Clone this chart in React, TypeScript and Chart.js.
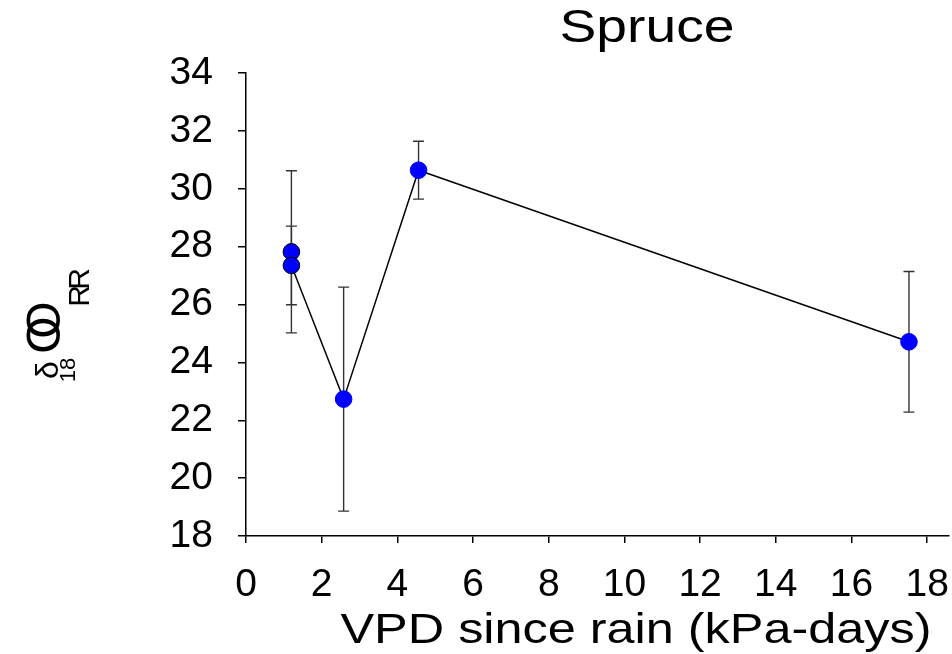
import React, { useEffect, useRef } from "react";
import { Chart, registerables } from "chart.js";

Chart.register(...registerables);

// ---- data ----
const vpdSinceRain = [1.2, 1.2, 2.58, 4.56, 17.52];
const d18O = [27.82, 27.35, 22.73, 30.64, 24.71];
const d18OErr = [2.8, 1.36, 3.87, 1.0, 2.43];
const pointEdge = ["#000000", "#000000", "#0000ff", "#0000ff", "#0000ff"];
const xTickValues = [0, 2, 4, 6, 8, 10, 12, 14, 16, 18];
const yTickValues = [18, 20, 22, 24, 26, 28, 30, 32, 34];
const chartTitle = "Spruce";
const xAxisTitle = "VPD since rain (kPa-days)";

const FONT = "'Liberation Sans', Arial, Helvetica, sans-serif";

const errorBarsPlugin = {
  id: "errorBars",
  beforeDatasetsDraw(chart: any) {
    const { ctx, scales } = chart;
    const x = scales.x;
    const y = scales.y;
    ctx.save();
    ctx.strokeStyle = "#333333";
    ctx.lineWidth = 1.4;
    const cap = 5.5;
    vpdSinceRain.forEach((v, i) => {
      const px = x.getPixelForValue(v);
      const top = y.getPixelForValue(d18O[i] + d18OErr[i]);
      const bot = y.getPixelForValue(d18O[i] - d18OErr[i]);
      ctx.beginPath();
      ctx.moveTo(px, top);
      ctx.lineTo(px, bot);
      ctx.moveTo(px - cap, top);
      ctx.lineTo(px + cap, top);
      ctx.moveTo(px - cap, bot);
      ctx.lineTo(px + cap, bot);
      ctx.stroke();
    });
    ctx.restore();
  },
};

function stretchedText(ctx: any, text: string, cx: number, baseY: number, size: number, sx: number) {
  ctx.save();
  ctx.font = `${size}px ${FONT}`;
  ctx.textAlign = "center";
  ctx.textBaseline = "alphabetic";
  ctx.translate(cx, baseY);
  ctx.scale(sx, 1);
  ctx.fillText(text, 0, 0);
  ctx.restore();
}

function rotatedText(ctx: any, text: string, baseX: number, cy: number, size: number) {
  ctx.save();
  ctx.font = `${size}px ${FONT}`;
  ctx.textAlign = "center";
  ctx.textBaseline = "alphabetic";
  ctx.translate(baseX, cy);
  ctx.rotate(-Math.PI / 2);
  ctx.fillText(text, 0, 0);
  ctx.restore();
}

const textPlugin = {
  id: "texts",
  afterDraw(chart: any) {
    const { ctx } = chart;
    ctx.save();
    ctx.fillStyle = "#000";
    stretchedText(ctx, chartTitle, 647, 42, 46, 1.2);
    stretchedText(ctx, xAxisTitle, 636, 643, 42, 1.2);
    // garbled y-axis label (overlapping glyphs as in the source)
    rotatedText(ctx, "O", 60, 320, 48);
    rotatedText(ctx, "O", 60, 335, 48);
    rotatedText(ctx, "δ", 58, 370, 32);
    rotatedText(ctx, "18", 75, 370, 22);
    rotatedText(ctx, "R", 89, 279, 30);
    rotatedText(ctx, "R", 89, 296, 30);
    ctx.restore();
  },
};

const CANVAS_W = 958;

export default function App() {
  const ref = useRef<HTMLCanvasElement | null>(null);

  useEffect(() => {
    if (!ref.current) return;
    const chart = new Chart(ref.current, {
      type: "scatter",
      data: {
        datasets: [
          {
            data: vpdSinceRain.map((v, i) => ({ x: v, y: d18O[i] })),
            showLine: true,
            borderColor: "#000000",
            borderWidth: 1.5,
            pointRadius: 8.3,
            pointBackgroundColor: "#0000ff",
            pointBorderColor: pointEdge,
            pointBorderWidth: 1,
            clip: false,
          } as any,
        ],
      },
      options: {
        animation: false,
        responsive: false,
        devicePixelRatio: 1,
        layout: { padding: { top: 73, left: 0, right: 0, bottom: 0 } },
        plugins: {
          legend: { display: false },
          title: { display: false },
          tooltip: { enabled: false },
        },
        scales: {
          x: {
            type: "linear",
            min: 0,
            max: 18.57,
            afterBuildTicks: (s: any) => {
              s.ticks = xTickValues.map((v) => ({ value: v }));
            },
            afterFit: (s: any) => {
              s.height = 118;
              s.paddingLeft = 0;
              s.paddingRight = 0;
            },
            ticks: {
              color: "#000",
              font: { family: FONT, size: 39 },
              padding: 19,
              maxRotation: 0,
              autoSkip: false,
            },
            grid: {
              drawOnChartArea: false,
              drawTicks: true,
              tickLength: 7,
              color: "#000",
              lineWidth: 1.5,
            },
            border: { color: "#000", width: 1.5 },
          },
          y: {
            type: "linear",
            min: 18,
            max: 34,
            afterBuildTicks: (s: any) => {
              s.ticks = yTickValues.map((v) => ({ value: v }));
            },
            afterFit: (s: any) => {
              s.width = 246;
              s.paddingTop = 0;
              s.paddingBottom = 0;
            },
            ticks: {
              color: "#000",
              font: { family: FONT, size: 39 },
              padding: 25,
              autoSkip: false,
            },
            grid: {
              drawOnChartArea: false,
              drawTicks: true,
              tickLength: 8,
              color: "#000",
              lineWidth: 1.5,
            },
            border: { color: "#000", width: 1.5 },
          },
        },
      } as any,
      plugins: [errorBarsPlugin, textPlugin],
    });
    return () => chart.destroy();
  }, []);

  return (
    <div
      style={{
        position: "absolute",
        left: 0,
        top: 0,
        width: 952,
        height: 654,
        overflow: "hidden",
        background: "#fff",
      }}
    >
      <canvas ref={ref} width={CANVAS_W} height={654} style={{ display: "block" }} />
    </div>
  );
}
